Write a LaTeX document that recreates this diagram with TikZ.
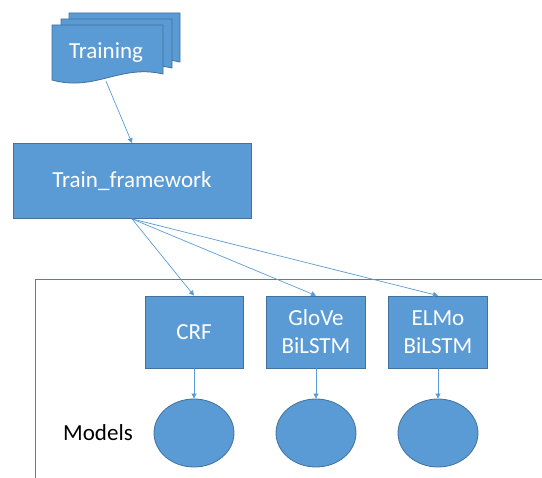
\documentclass[tikz,border=0pt]{standalone}
\usepackage{fontspec}
\setmainfont{Carlito}
\usetikzlibrary{arrows.meta,shapes.geometric}
\definecolor{boxfill}{HTML}{5B9BD5}
\definecolor{boxline}{HTML}{41719C}
\definecolor{arrowcol}{HTML}{5B9BD5}
\definecolor{framecol}{HTML}{4F7FB5}
\begin{document}
\begin{tikzpicture}[x=1pt,y=-1pt,
    font=\fontsize{23}{28}\selectfont,
    blockbox/.style={rectangle,draw=boxline,fill=boxfill,line width=0.8pt,text=white,align=center,inner sep=0pt},
    modelball/.style={ellipse,draw=boxline,fill=boxfill,line width=0.8pt,minimum width=80pt,minimum height=68pt,inner sep=0pt},
    link/.style={draw=arrowcol,line width=0.7pt,-{Triangle[width=5pt,length=5pt]}},
    sheet/.style={draw=boxline,fill=boxfill,line width=0.8pt}]
    \useasboundingbox (0,0) rectangle (542,478);
    % stack of training documents
    \foreach \dx/\dy in {17/-12,9/-6,0/0}
        \draw[sheet,shift={(\dx,\dy)}] (52,25) -- (163,25) -- (163,74) .. controls (120,64) and (95,92) .. (52,80) -- cycle;
    \node[text=white,minimum width=111pt,minimum height=56pt,inner sep=0pt] (training) at (106,53) {Training};
    \node[blockbox,minimum width=238pt,minimum height=75pt] (frame) at (132,181) {Train\_framework};
    % models area
    \draw[framecol,line width=1pt] (35,478) -- (35,280) -- (542,280);
    \node[blockbox,minimum width=98pt,minimum height=72pt] (crf) at (194,332) {CRF};
    \node[blockbox,minimum width=99pt,minimum height=72pt] (glove) at (316,332) {GloVe\\BiLSTM};
    \node[blockbox,minimum width=99pt,minimum height=72pt] (elmo) at (438,332) {ELMo\\BiLSTM};
    \node[modelball] (mcrf) at (194,433) {};
    \node[modelball] (mglove) at (316,433) {};
    \node[modelball] (melmo) at (438,433) {};
    \node (models) at (98,433) {Models};
    % connectors
    \draw[link] (training.south) -- (frame.north);
    \foreach \m in {crf,glove,elmo}
        \draw[link] (frame.south) -- (\m.north);
    \draw[link] (crf.south) -- (mcrf.north);
    \draw[link] (glove.south) -- (mglove.north);
    \draw[link] (elmo.south) -- (melmo.north);
\end{tikzpicture}
\end{document}
